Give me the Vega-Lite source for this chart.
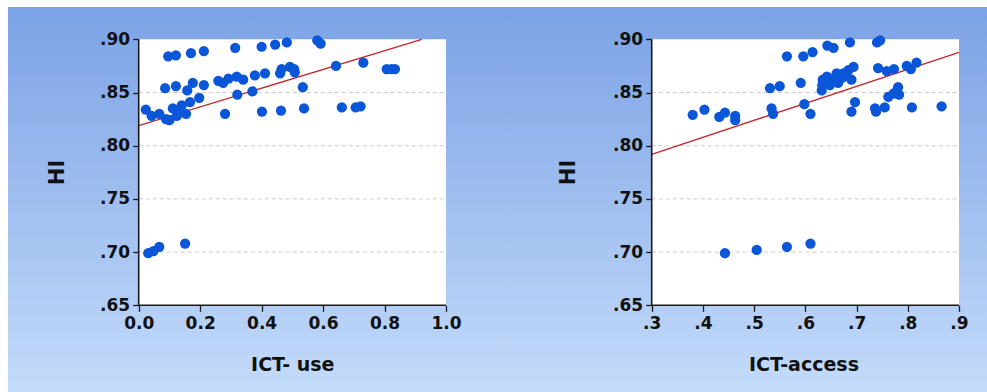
{
  "$schema": "https://vega.github.io/schema/vega-lite/v6.json",
  "width": 979,
  "height": 385,
  "autosize": "none",
  "padding": {"left": 8, "top": 7, "right": 0, "bottom": 0},
  "background": "white",
  "view": {
    "stroke": null,
    "fill": {
      "gradient": "linear",
      "x1": 0, "y1": 0, "x2": 0, "y2": 1,
      "stops": [
        {"offset": 0, "color": "#7ba2e5"},
        {"offset": 1, "color": "#c4dbfa"}
      ]
    }
  },
  "config": {
    "axis": {
      "zindex": 1,
      "domain": false,
      "grid": false,
      "ticks": true,
      "tickSize": 6,
      "tickWidth": 1.3,
      "tickColor": "#1a1a1a",
      "labelFont": "DejaVu Sans",
      "labelFontWeight": "bold",
      "labelFontSize": 17,
      "labelColor": "#111111",
      "labelFlush": false,
      "labelOverlap": false,
      "labelBound": false,
      "titleFont": "DejaVu Sans",
      "titleFontWeight": "bold",
      "titleFontSize": 19,
      "titleColor": "#111111",
      "titleAlign": "center",
      "titleBaseline": "middle"
    }
  },
  "datasets": {
    "useHI": [
      {"use": 0.023, "hi": 0.834}, {"use": 0.042, "hi": 0.828}, {"use": 0.067, "hi": 0.830},
      {"use": 0.089, "hi": 0.825}, {"use": 0.100, "hi": 0.824}, {"use": 0.086, "hi": 0.854},
      {"use": 0.096, "hi": 0.884}, {"use": 0.121, "hi": 0.885}, {"use": 0.121, "hi": 0.856},
      {"use": 0.111, "hi": 0.835}, {"use": 0.124, "hi": 0.828}, {"use": 0.135, "hi": 0.832},
      {"use": 0.154, "hi": 0.830}, {"use": 0.140, "hi": 0.838}, {"use": 0.167, "hi": 0.841},
      {"use": 0.197, "hi": 0.845}, {"use": 0.158, "hi": 0.852}, {"use": 0.176, "hi": 0.859},
      {"use": 0.170, "hi": 0.887}, {"use": 0.212, "hi": 0.889}, {"use": 0.212, "hi": 0.857},
      {"use": 0.259, "hi": 0.861}, {"use": 0.275, "hi": 0.859}, {"use": 0.292, "hi": 0.863},
      {"use": 0.319, "hi": 0.865}, {"use": 0.340, "hi": 0.862}, {"use": 0.314, "hi": 0.892},
      {"use": 0.281, "hi": 0.830}, {"use": 0.321, "hi": 0.848}, {"use": 0.370, "hi": 0.851},
      {"use": 0.378, "hi": 0.866}, {"use": 0.411, "hi": 0.868}, {"use": 0.400, "hi": 0.893},
      {"use": 0.401, "hi": 0.832}, {"use": 0.444, "hi": 0.895}, {"use": 0.482, "hi": 0.897},
      {"use": 0.460, "hi": 0.868}, {"use": 0.465, "hi": 0.872}, {"use": 0.492, "hi": 0.874},
      {"use": 0.506, "hi": 0.872}, {"use": 0.508, "hi": 0.869}, {"use": 0.463, "hi": 0.833},
      {"use": 0.534, "hi": 0.855}, {"use": 0.538, "hi": 0.835}, {"use": 0.581, "hi": 0.899},
      {"use": 0.592, "hi": 0.896}, {"use": 0.642, "hi": 0.875}, {"use": 0.661, "hi": 0.836},
      {"use": 0.706, "hi": 0.836}, {"use": 0.722, "hi": 0.837}, {"use": 0.731, "hi": 0.878},
      {"use": 0.807, "hi": 0.872}, {"use": 0.823, "hi": 0.872}, {"use": 0.834, "hi": 0.872},
      {"use": 0.031, "hi": 0.699}, {"use": 0.048, "hi": 0.701}, {"use": 0.067, "hi": 0.705},
      {"use": 0.151, "hi": 0.708}
    ],
    "accessHI": [
      {"access": 0.380, "hi": 0.829}, {"access": 0.403, "hi": 0.834}, {"access": 0.432, "hi": 0.827},
      {"access": 0.443, "hi": 0.831}, {"access": 0.463, "hi": 0.828}, {"access": 0.463, "hi": 0.824},
      {"access": 0.534, "hi": 0.835}, {"access": 0.537, "hi": 0.830}, {"access": 0.531, "hi": 0.854},
      {"access": 0.550, "hi": 0.856}, {"access": 0.564, "hi": 0.884}, {"access": 0.591, "hi": 0.859},
      {"access": 0.596, "hi": 0.884}, {"access": 0.614, "hi": 0.888}, {"access": 0.598, "hi": 0.839},
      {"access": 0.610, "hi": 0.830}, {"access": 0.643, "hi": 0.894}, {"access": 0.655, "hi": 0.892},
      {"access": 0.687, "hi": 0.897}, {"access": 0.740, "hi": 0.897}, {"access": 0.746, "hi": 0.899},
      {"access": 0.632, "hi": 0.852}, {"access": 0.634, "hi": 0.862}, {"access": 0.642, "hi": 0.865},
      {"access": 0.651, "hi": 0.862}, {"access": 0.661, "hi": 0.862}, {"access": 0.664, "hi": 0.859},
      {"access": 0.674, "hi": 0.868}, {"access": 0.684, "hi": 0.871}, {"access": 0.694, "hi": 0.874},
      {"access": 0.690, "hi": 0.862}, {"access": 0.661, "hi": 0.868}, {"access": 0.648, "hi": 0.857},
      {"access": 0.633, "hi": 0.857}, {"access": 0.672, "hi": 0.864}, {"access": 0.680, "hi": 0.866},
      {"access": 0.645, "hi": 0.860}, {"access": 0.697, "hi": 0.841}, {"access": 0.690, "hi": 0.832},
      {"access": 0.742, "hi": 0.873}, {"access": 0.759, "hi": 0.870}, {"access": 0.773, "hi": 0.872},
      {"access": 0.736, "hi": 0.835}, {"access": 0.738, "hi": 0.832}, {"access": 0.755, "hi": 0.836},
      {"access": 0.762, "hi": 0.846}, {"access": 0.772, "hi": 0.849}, {"access": 0.781, "hi": 0.855},
      {"access": 0.778, "hi": 0.851}, {"access": 0.783, "hi": 0.848}, {"access": 0.798, "hi": 0.875},
      {"access": 0.806, "hi": 0.872}, {"access": 0.817, "hi": 0.878}, {"access": 0.808, "hi": 0.836},
      {"access": 0.866, "hi": 0.837}, {"access": 0.443, "hi": 0.699}, {"access": 0.505, "hi": 0.702},
      {"access": 0.564, "hi": 0.705}, {"access": 0.610, "hi": 0.708}
    ],
    "fitUse": [{"use": 0, "hi": 0.8188}, {"use": 0.921, "hi": 0.9}],
    "fitAccess": [{"access": 0.3, "hi": 0.7919}, {"access": 0.9, "hi": 0.8878}],
    "grid": [{"hi": 0.70}, {"hi": 0.75}, {"hi": 0.80}, {"hi": 0.85}],
    "one": [{}]
  },
  "layer": [
    {
      "layer": [
        {
          "data": {"name": "one"},
          "mark": {"type": "rect", "fill": "white"},
          "encoding": {
            "x": {"datum": 0, "type": "quantitative", "scale": {"domain": [-0.42532, 2.76049], "nice": false, "zero": false}},
            "x2": {"datum": 1},
            "y": {"datum": 0.65, "type": "quantitative", "scale": {"domain": [0.56852, 0.93036], "nice": false, "zero": false}},
            "y2": {"datum": 0.9}
          }
        },
        {
          "data": {"name": "grid"},
          "mark": {"type": "rule", "color": "#c9c9c9", "strokeDash": [4, 3], "strokeWidth": 1},
          "encoding": {
            "x": {"datum": 0, "type": "quantitative", "scale": {"domain": [-0.42532, 2.76049], "nice": false, "zero": false}},
            "x2": {"datum": 1},
            "y": {"field": "hi", "type": "quantitative", "scale": {"domain": [0.56852, 0.93036], "nice": false, "zero": false}}
          }
        },
        {
          "data": {"name": "fitUse"},
          "mark": {"type": "line", "color": "#c3262c", "strokeWidth": 1.3},
          "encoding": {
            "x": {"field": "use", "type": "quantitative", "scale": {"domain": [-0.42532, 2.76049], "nice": false, "zero": false}},
            "y": {"field": "hi", "type": "quantitative", "scale": {"domain": [0.56852, 0.93036], "nice": false, "zero": false}}
          }
        },
        {
          "data": {"name": "useHI"},
          "mark": {"type": "circle", "size": 105, "opacity": 1, "color": "#0a56d8"},
          "encoding": {
            "x": {
              "field": "use", "type": "quantitative", "title": "ICT- use",
              "scale": {"domain": [-0.42532, 2.76049], "nice": false, "zero": false},
              "axis": {
                "orient": "bottom", "offset": -86.7,
                "values": [0, 0.2, 0.4, 0.6, 0.8, 1.0], "format": ".1f",
                "labelPadding": 4, "titleX": 284.3, "titleY": 59
              }
            },
            "y": {
              "field": "hi", "type": "quantitative", "title": "HI",
              "scale": {"domain": [0.56852, 0.93036], "nice": false, "zero": false},
              "axis": {
                "orient": "left", "offset": -130.7,
                "values": [0.65, 0.70, 0.75, 0.80, 0.85, 0.90],
                "labelExpr": "slice(format(datum.value, '.2f'), 1)",
                "labelPadding": 3, "titleFontSize": 21,
                "titleX": -81, "titleY": 165, "titleAngle": 270
              }
            }
          }
        },
        {
          "data": {"name": "one"},
          "mark": {"type": "rule", "color": "#1a1a1a", "strokeWidth": 1.6},
          "encoding": {
            "x": {"datum": 0, "type": "quantitative", "scale": {"domain": [-0.42532, 2.76049], "nice": false, "zero": false}},
            "y": {"datum": 0.65, "type": "quantitative", "scale": {"domain": [0.56852, 0.93036], "nice": false, "zero": false}},
            "y2": {"datum": 0.9}
          }
        },
        {
          "data": {"name": "one"},
          "mark": {"type": "rule", "color": "#1a1a1a", "strokeWidth": 1.6},
          "encoding": {
            "x": {"datum": 0, "type": "quantitative", "scale": {"domain": [-0.42532, 2.76049], "nice": false, "zero": false}},
            "x2": {"datum": 1},
            "y": {"datum": 0.65, "type": "quantitative", "scale": {"domain": [0.56852, 0.93036], "nice": false, "zero": false}}
          }
        }
      ]
    },
    {
      "layer": [
        {
          "data": {"name": "one"},
          "mark": {"type": "rect", "fill": "white"},
          "encoding": {
            "x": {"datum": 0.3, "type": "quantitative", "scale": {"domain": [-0.95681, 0.95467], "nice": false, "zero": false}},
            "x2": {"datum": 0.9},
            "y": {"datum": 0.65, "type": "quantitative", "scale": {"domain": [0.56852, 0.93036], "nice": false, "zero": false}},
            "y2": {"datum": 0.9}
          }
        },
        {
          "data": {"name": "grid"},
          "mark": {"type": "rule", "color": "#c9c9c9", "strokeDash": [4, 3], "strokeWidth": 1},
          "encoding": {
            "x": {"datum": 0.3, "type": "quantitative", "scale": {"domain": [-0.95681, 0.95467], "nice": false, "zero": false}},
            "x2": {"datum": 0.9},
            "y": {"field": "hi", "type": "quantitative", "scale": {"domain": [0.56852, 0.93036], "nice": false, "zero": false}}
          }
        },
        {
          "data": {"name": "fitAccess"},
          "mark": {"type": "line", "color": "#c3262c", "strokeWidth": 1.3},
          "encoding": {
            "x": {"field": "access", "type": "quantitative", "scale": {"domain": [-0.95681, 0.95467], "nice": false, "zero": false}},
            "y": {"field": "hi", "type": "quantitative", "scale": {"domain": [0.56852, 0.93036], "nice": false, "zero": false}}
          }
        },
        {
          "data": {"name": "accessHI"},
          "mark": {"type": "circle", "size": 105, "opacity": 1, "color": "#0a56d8"},
          "encoding": {
            "x": {
              "field": "access", "type": "quantitative", "title": "ICT-access",
              "scale": {"domain": [-0.95681, 0.95467], "nice": false, "zero": false},
              "axis": {
                "orient": "bottom", "offset": -86.7,
                "values": [0.3, 0.4, 0.5, 0.6, 0.7, 0.8, 0.9],
                "labelExpr": "slice(format(datum.value, '.1f'), 1)",
                "labelPadding": 4, "titleX": 795.5, "titleY": 59
              }
            },
            "y": {
              "field": "hi", "type": "quantitative", "title": "HI",
              "scale": {"domain": [0.56852, 0.93036], "nice": false, "zero": false},
              "axis": {
                "orient": "left", "offset": -643.7,
                "values": [0.65, 0.70, 0.75, 0.80, 0.85, 0.90],
                "labelExpr": "slice(format(datum.value, '.2f'), 1)",
                "labelPadding": 3, "titleFontSize": 21,
                "titleX": -83.4, "titleY": 165, "titleAngle": 270
              }
            }
          }
        },
        {
          "data": {"name": "one"},
          "mark": {"type": "rule", "color": "#1a1a1a", "strokeWidth": 1.6},
          "encoding": {
            "x": {"datum": 0.3, "type": "quantitative", "scale": {"domain": [-0.95681, 0.95467], "nice": false, "zero": false}},
            "y": {"datum": 0.65, "type": "quantitative", "scale": {"domain": [0.56852, 0.93036], "nice": false, "zero": false}},
            "y2": {"datum": 0.9}
          }
        },
        {
          "data": {"name": "one"},
          "mark": {"type": "rule", "color": "#1a1a1a", "strokeWidth": 1.6},
          "encoding": {
            "x": {"datum": 0.3, "type": "quantitative", "scale": {"domain": [-0.95681, 0.95467], "nice": false, "zero": false}},
            "x2": {"datum": 0.9},
            "y": {"datum": 0.65, "type": "quantitative", "scale": {"domain": [0.56852, 0.93036], "nice": false, "zero": false}}
          }
        }
      ]
    }
  ],
  "resolve": {
    "scale": {"x": "independent", "y": "independent"},
    "axis": {"x": "independent", "y": "independent"}
  }
}
